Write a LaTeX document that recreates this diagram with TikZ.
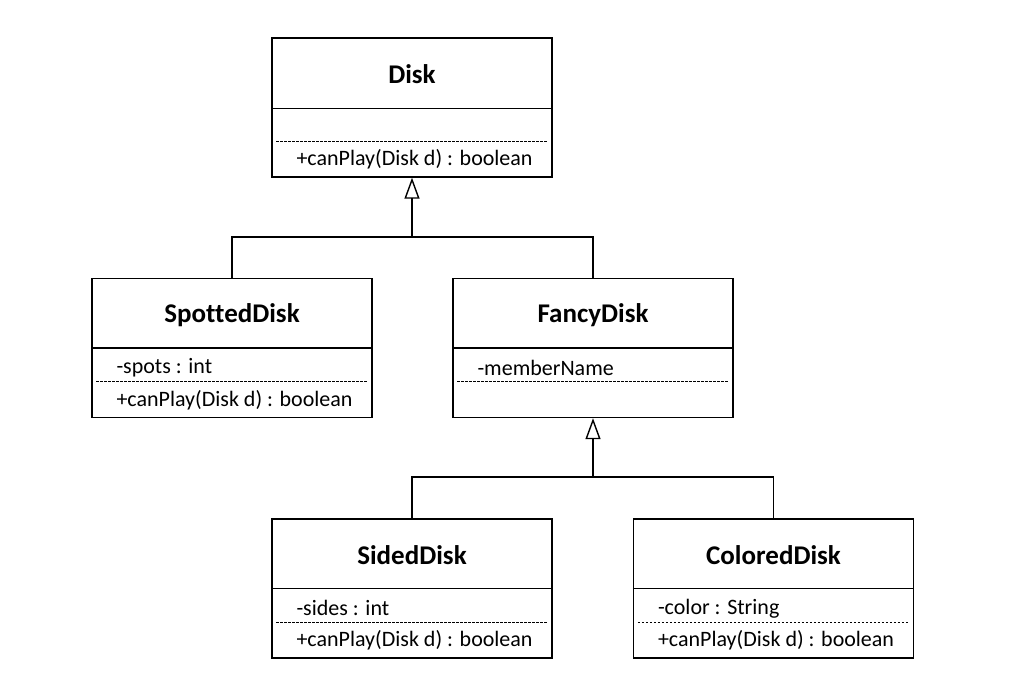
\documentclass[tikz,border=0pt]{standalone}
\usepackage{fontspec}
\setmainfont{Carlito}[Ligatures=NoCommon]
\usepackage{tikz}
\usetikzlibrary{calc,positioning,arrows.meta}

\begin{document}
\begin{tikzpicture}[x=1pt,y=-1pt,
    classbox/.style={draw, line width=1.4pt, minimum width=280pt, minimum height=139pt, inner sep=0pt},
    classname/.style={inner sep=0pt, font=\fontsize{27}{31}\selectfont\bfseries},
    member/.style={inner sep=0pt, anchor=west, font=\fontsize{22}{26}\selectfont},
    sepline/.style={line width=1.4pt},
    dashsep/.style={line width=0.7pt, dash pattern=on 2.5pt off 1.5pt},
    inherit/.style={line width=1.4pt},
    isa/.style={inherit, -{Triangle[open, length=21pt, width=15pt, line width=1.4pt]}}]
  \useasboundingbox (0,0) rectangle (1024,684);

  % Disk
  \node[classbox] (disk) at (412,107.5) {};
  \node[classname] (disktitle) at ([yshift=-37pt]disk.north) {Disk};
  \draw[sepline] ([yshift=-71pt]disk.north west) -- ([yshift=-71pt]disk.north east);
  \draw[dashsep] ([xshift=5pt,yshift=-104pt]disk.north west) -- ([xshift=-5pt,yshift=-104pt]disk.north east);
  \node[member] (diskop) at ([xshift=25pt,yshift=-122pt]disk.north west) {+canPlay(Disk d) : boolean};

  % SpottedDisk
  \node[classbox] (spotted) at (232,348) {};
  \node[classname] (spottedtitle) at ([yshift=-37pt]spotted.north) {SpottedDisk};
  \draw[sepline] ([yshift=-70pt]spotted.north west) -- ([yshift=-70pt]spotted.north east);
  \draw[dashsep] ([xshift=5pt,yshift=-104pt]spotted.north west) -- ([xshift=-5pt,yshift=-104pt]spotted.north east);
  \node[member] (spottedattr) at ([xshift=25pt,yshift=-90pt]spotted.north west) {-spots : int};
  \node[member] (spottedop) at ([xshift=25pt,yshift=-122pt]spotted.north west) {+canPlay(Disk d) : boolean};

  % FancyDisk
  \node[classbox] (fancy) at (593,348) {};
  \node[classname] (fancytitle) at ([yshift=-37pt]fancy.north) {FancyDisk};
  \draw[sepline] ([yshift=-70pt]fancy.north west) -- ([yshift=-70pt]fancy.north east);
  \draw[dashsep] ([xshift=5pt,yshift=-104pt]fancy.north west) -- ([xshift=-5pt,yshift=-104pt]fancy.north east);
  \node[member] (fancyattr) at ([xshift=25pt,yshift=-90pt]fancy.north west) {-memberName};

  % SidedDisk
  \node[classbox] (sided) at (412,588.5) {};
  \node[classname] (sidedtitle) at ([yshift=-37pt]sided.north) {SidedDisk};
  \draw[sepline] ([yshift=-70pt]sided.north west) -- ([yshift=-70pt]sided.north east);
  \draw[dashsep] ([xshift=5pt,yshift=-104pt]sided.north west) -- ([xshift=-5pt,yshift=-104pt]sided.north east);
  \node[member] (sidedattr) at ([xshift=25pt,yshift=-90pt]sided.north west) {-sides : int};
  \node[member] (sidedop) at ([xshift=25pt,yshift=-122pt]sided.north west) {+canPlay(Disk d) : boolean};

  % ColoredDisk
  \node[classbox] (colored) at (773.5,588.5) {};
  \node[classname] (coloredtitle) at ([yshift=-37pt]colored.north) {ColoredDisk};
  \draw[sepline] ([yshift=-70pt]colored.north west) -- ([yshift=-70pt]colored.north east);
  \draw[dashsep] ([xshift=5pt,yshift=-104pt]colored.north west) -- ([xshift=-5pt,yshift=-104pt]colored.north east);
  \node[member] (coloredattr) at ([xshift=25pt,yshift=-90pt]colored.north west) {-color : String};
  \node[member] (coloredop) at ([xshift=25pt,yshift=-122pt]colored.north west) {+canPlay(Disk d) : boolean};

  % generalisations
  \coordinate (j1) at (412,237);
  \coordinate (j2) at (593,477);
  \draw[inherit] (spotted.north) |- (j1) -| (fancy.north);
  \draw[isa] (j1) -- (disk.south);
  \draw[inherit] (sided.north) |- (j2) -| (colored.north);
  \draw[isa] (j2) -- (fancy.south);
\end{tikzpicture}
\end{document}
